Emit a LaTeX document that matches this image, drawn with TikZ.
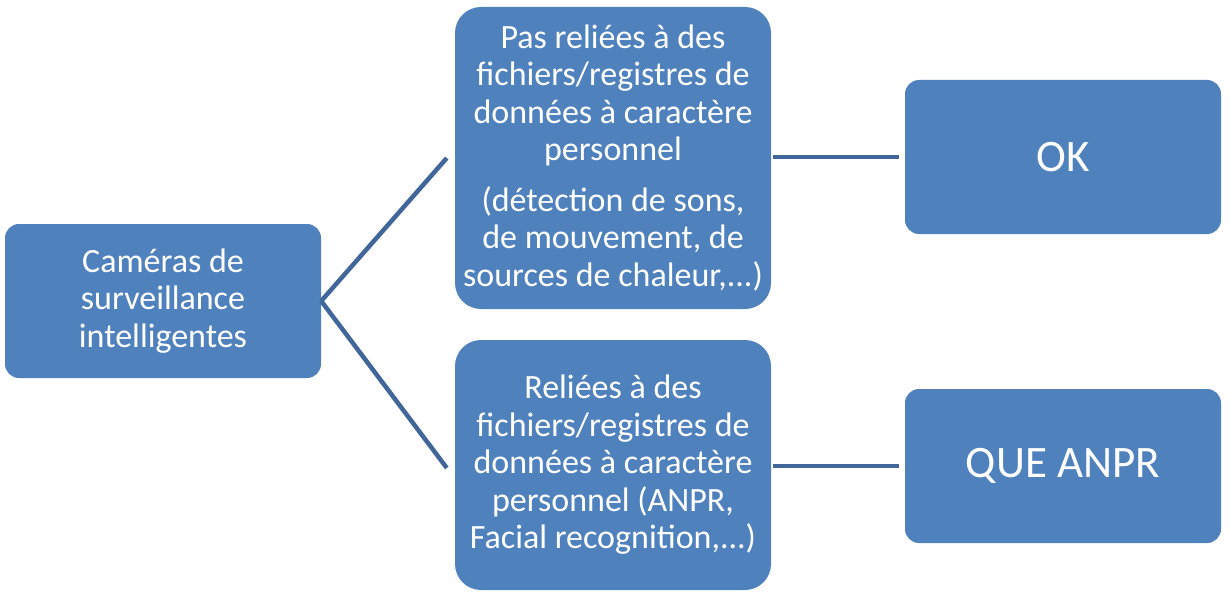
\documentclass[tikz,border=0pt]{standalone}
\usepackage{fontspec}
\setmainfont{Carlito}
\definecolor{boxblue}{HTML}{4F81BD}
\definecolor{linkblue}{HTML}{41679A}
\begin{document}
\begin{tikzpicture}[x=1pt,y=-1pt,
  box/.style={fill=boxblue, text=white, align=center, inner sep=0pt, font=\fontsize{34}{37.5}\selectfont},
  small/.style={box, rounded corners=14pt, minimum width=316pt, minimum height=154pt},
  big/.style={box, rounded corners=26pt, minimum width=316pt},
  link/.style={draw=linkblue, line width=4.5pt}]
\useasboundingbox (0,0) rectangle (1230,604);
\node[small] (L) at (163,301) {Caméras de\\surveillance\\intelligentes};
\node[big, minimum height=302pt] (T) at (613,158) {Pas reliées à des\\fichiers/registres de\\données à caractère\\personnel\\[13pt](détection de sons,\\de mouvement, de\\sources de chaleur,...)};
\node[big, minimum height=250pt] (B) at (613,465) {Reliées à des\\fichiers/registres de\\données à caractère\\personnel (ANPR,\\Facial recognition,...)};
\node[small, font=\fontsize{45}{50}\selectfont] (OK) at (1063,157) {OK};
\node[small, font=\fontsize{45}{50}\selectfont] (Q) at (1063,466) {QUE ANPR};
\coordinate (TL) at ([xshift=-8pt]T.west);
\coordinate (BL) at ([xshift=-8pt,yshift=-3pt]B.west);
\draw[link] (L.east) -- (TL);
\draw[link] (L.east) -- (BL);
\draw[link] ([xshift=2pt]T.east |- OK.west) -- ([xshift=-6pt]OK.west);
\draw[link] ([xshift=2pt]B.east |- Q.west) -- ([xshift=-6pt]Q.west);
\end{tikzpicture}
\end{document}
